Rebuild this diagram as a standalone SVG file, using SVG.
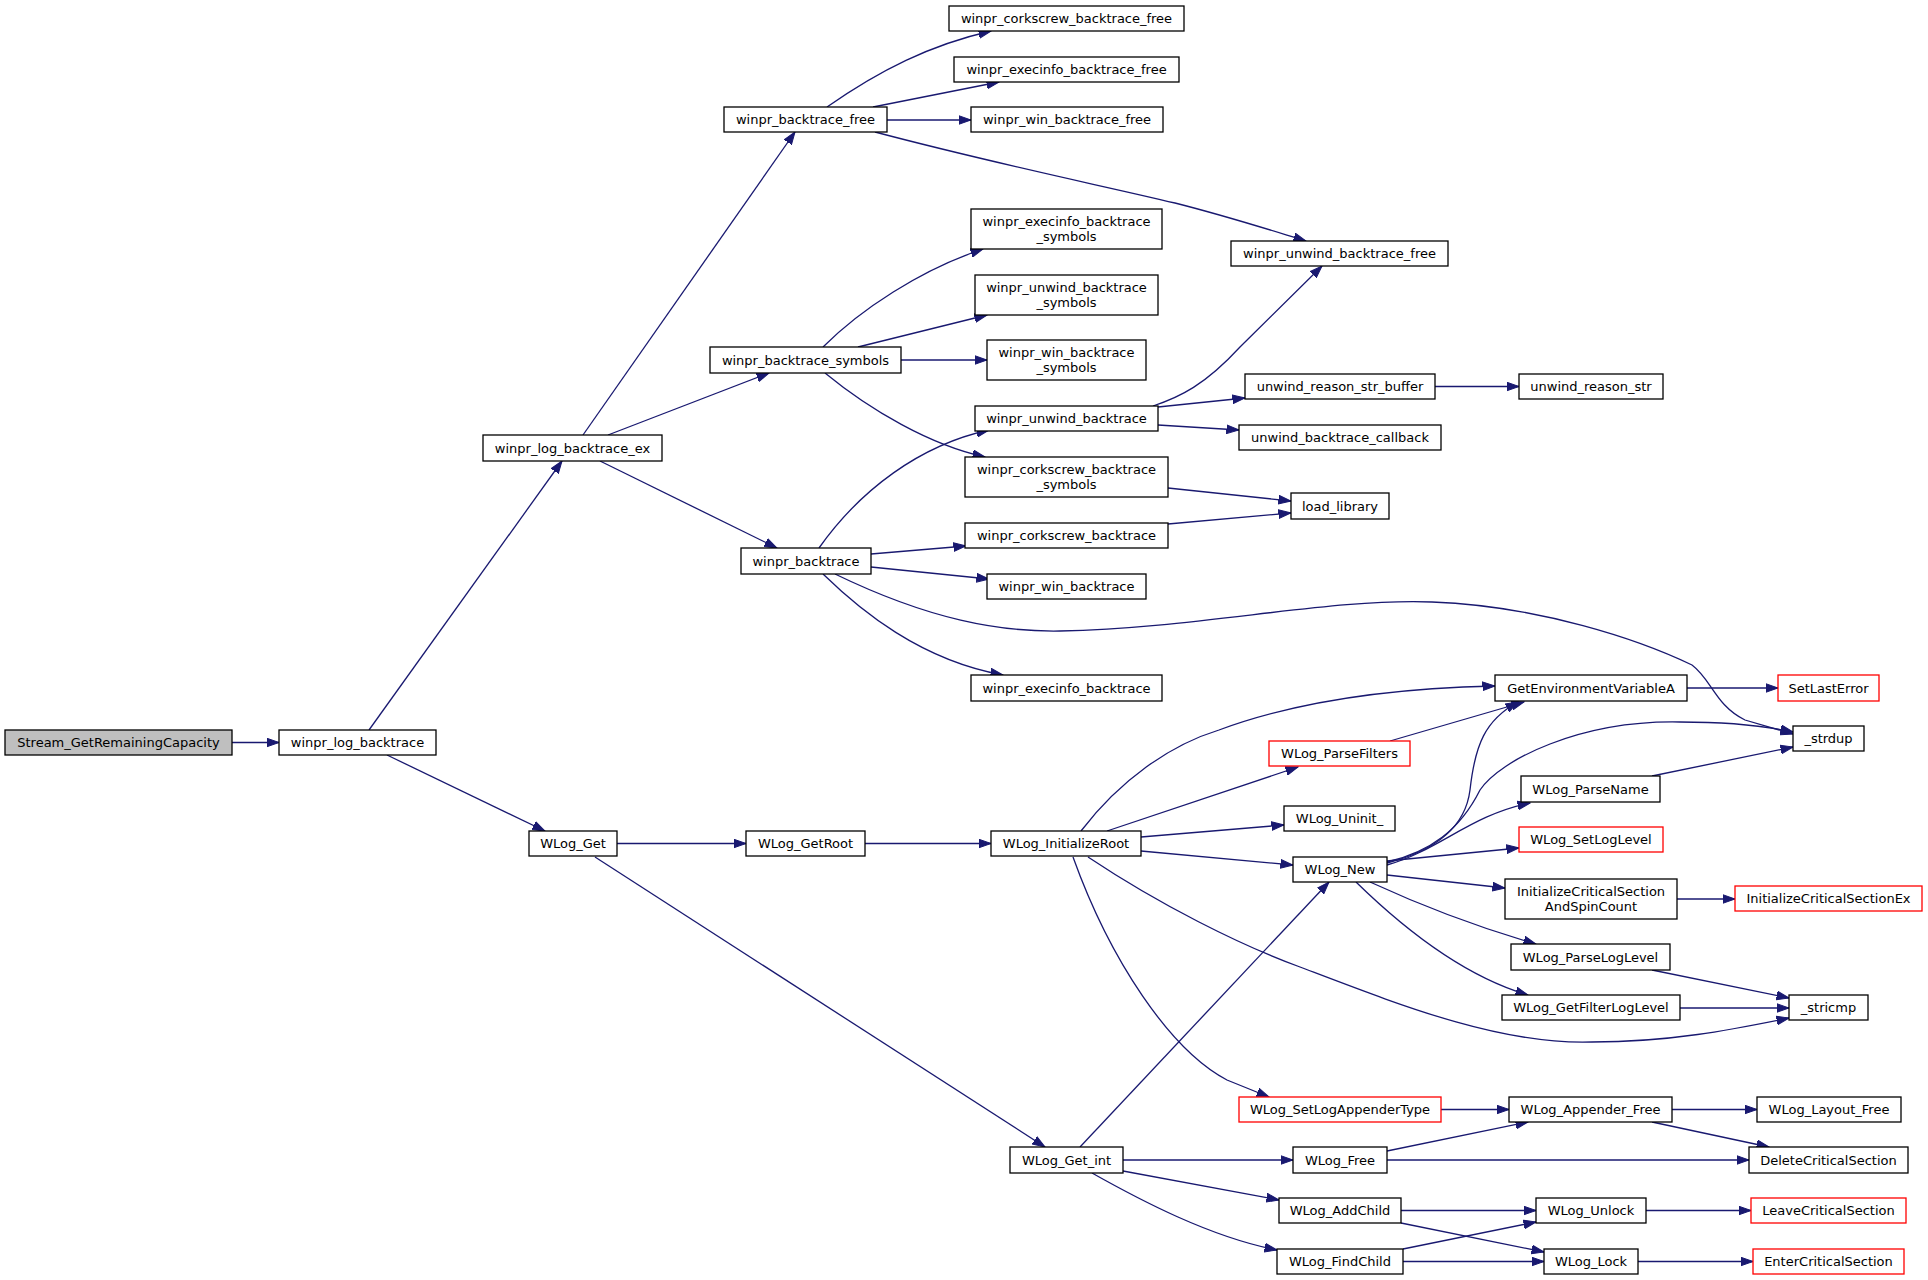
<svg xmlns="http://www.w3.org/2000/svg" width="1928" height="1280" viewBox="0 0 1928 1280">
<style>
.n rect{fill:#fff;stroke:#000;stroke-width:1.3}
.r rect{stroke:#ff0000}
.g rect{fill:#bfbfbf}
text{font-family:"DejaVu Sans","Liberation Sans",sans-serif;font-size:13px;text-anchor:middle;fill:#000}
#edges path{fill:none;stroke:#191970;stroke-width:1.3;marker-end:url(#a)}
</style>
<defs>
<marker id="a" markerUnits="userSpaceOnUse" markerWidth="14" markerHeight="10" refX="12.5" refY="5" orient="auto">
<path d="M0,0.6 L12.5,5 L0,9.4 z" fill="#191970" stroke="#191970" stroke-width="1"/>
</marker>
</defs>
<rect width="1928" height="1280" fill="#fff"/>
<g id="edges">
<path d="M232,742.5 L279,742.5"/>
<path d="M369,730 L562,461"/>
<path d="M387,755 L545,831"/>
<path d="M583,435 L795,132"/>
<path d="M608,435 L769,373"/>
<path d="M600,461 L777,548"/>
<path d="M827,107 C880,70 930,45 991,31"/>
<path d="M873,107 L999,82"/>
<path d="M887,120 L971,120"/>
<path d="M875,132 C1000,165 1100,185 1175,203 C1230,217 1270,230 1306,241"/>
<path d="M823,347 C860,310 920,270 983,249"/>
<path d="M858,347 L987,315"/>
<path d="M901,360 L987,360"/>
<path d="M825,373 C870,410 930,445 985,457"/>
<path d="M819,548 C860,490 920,445 989,430"/>
<path d="M871,554 L966,546"/>
<path d="M871,567 L989,579"/>
<path d="M823,574 C860,610 920,660 1003,675"/>
<path d="M835,574 C930,620 1000,632 1060,631 C1200,628 1330,598 1432,602 C1540,606 1640,640 1692,665 C1712,680 1715,705 1745,720 L1793,734"/>
<path d="M1153,406 C1180,397 1205,385 1240,347 L1322,266"/>
<path d="M1158,407 L1245,398"/>
<path d="M1158,425 L1239,430"/>
<path d="M1435,386.5 L1519,386.5"/>
<path d="M1168,488 L1291,501"/>
<path d="M1168,524 L1291,513"/>
<path d="M617,843.5 L746,843.5"/>
<path d="M595,857 L1045,1147"/>
<path d="M865,843.5 L991,843.5"/>
<path d="M1081,831 C1120,780 1170,745 1219,730 C1300,700 1400,688 1495,686"/>
<path d="M1107,831 L1298,767"/>
<path d="M1141,837 L1284,825"/>
<path d="M1141,851 L1293,865"/>
<path d="M1073,857 C1110,960 1170,1050 1227,1080 L1269,1097"/>
<path d="M1088,857 C1160,905 1240,945 1300,967 C1400,1005 1500,1045 1592,1042 C1670,1042 1730,1030 1789,1018"/>
<path d="M1390,741 L1524,702"/>
<path d="M1687,688 L1778,688"/>
<path d="M1387,863 C1430,852 1465,830 1470,790 C1475,745 1485,720 1518,702"/>
<path d="M1387,862 C1430,852 1460,830 1480,790 C1500,760 1580,720 1680,722 C1730,722 1770,727 1793,732"/>
<path d="M1387,865 C1440,850 1470,815 1530,803"/>
<path d="M1387,861 L1519,848"/>
<path d="M1387,875 L1505,888"/>
<path d="M1370,882 C1420,905 1470,925 1536,944"/>
<path d="M1356,882 C1400,925 1460,975 1528,995"/>
<path d="M1652,776 L1793,747"/>
<path d="M1677,899 L1735,899"/>
<path d="M1652,970 L1789,998"/>
<path d="M1680,1008 L1789,1008"/>
<path d="M1080,1147 L1329,882"/>
<path d="M1123,1160 L1293,1160"/>
<path d="M1123,1171 L1279,1200"/>
<path d="M1092,1173 C1140,1200 1210,1237 1277,1250"/>
<path d="M1441,1109.5 L1509,1109.5"/>
<path d="M1387,1151 L1528,1122"/>
<path d="M1387,1160 L1749,1160"/>
<path d="M1672,1109.5 L1757,1109.5"/>
<path d="M1652,1122 L1769,1147"/>
<path d="M1401,1210.5 L1536,1210.5"/>
<path d="M1401,1223 L1544,1252"/>
<path d="M1403,1249 L1536,1222"/>
<path d="M1403,1261.5 L1544,1261.5"/>
<path d="M1646,1210.5 L1751,1210.5"/>
<path d="M1638,1261.5 L1753,1261.5"/>
</g>
<g id="n1" class="n g"><rect x="5" y="730" width="227" height="25"/><text x="118.5" y="747">Stream_GetRemainingCapacity</text></g>
<g id="n2" class="n"><rect x="279" y="730" width="157" height="25"/><text x="357.5" y="747">winpr_log_backtrace</text></g>
<g id="n3" class="n"><rect x="483" y="435" width="179" height="26"/><text x="572.5" y="452.5">winpr_log_backtrace_ex</text></g>
<g id="n4" class="n"><rect x="529" y="831" width="88" height="25"/><text x="573" y="848">WLog_Get</text></g>
<g id="n5" class="n"><rect x="724" y="107" width="163" height="25"/><text x="805.5" y="124">winpr_backtrace_free</text></g>
<g id="n6" class="n"><rect x="710" y="347" width="191" height="26"/><text x="805.5" y="364.5">winpr_backtrace_symbols</text></g>
<g id="n7" class="n"><rect x="741" y="548" width="130" height="26"/><text x="806" y="565.5">winpr_backtrace</text></g>
<g id="n8" class="n"><rect x="746" y="831" width="119" height="25"/><text x="805.5" y="848">WLog_GetRoot</text></g>
<g id="n9" class="n"><rect x="1010" y="1147" width="113" height="26"/><text x="1066.5" y="1164.5">WLog_Get_int</text></g>
<g id="n10" class="n"><rect x="949" y="6" width="235" height="25"/><text x="1066.5" y="23">winpr_corkscrew_backtrace_free</text></g>
<g id="n11" class="n"><rect x="954" y="57" width="225" height="25"/><text x="1066.5" y="74">winpr_execinfo_backtrace_free</text></g>
<g id="n12" class="n"><rect x="971" y="107" width="192" height="25"/><text x="1067" y="124">winpr_win_backtrace_free</text></g>
<g id="n13" class="n"><rect x="971" y="209" width="191" height="40"/><text x="1066.5" y="225.5">winpr_execinfo_backtrace</text><text x="1066.5" y="240.5">_symbols</text></g>
<g id="n14" class="n"><rect x="975" y="275" width="183" height="40"/><text x="1066.5" y="291.5">winpr_unwind_backtrace</text><text x="1066.5" y="306.5">_symbols</text></g>
<g id="n15" class="n"><rect x="987" y="340" width="159" height="40"/><text x="1066.5" y="356.5">winpr_win_backtrace</text><text x="1066.5" y="371.5">_symbols</text></g>
<g id="n16" class="n"><rect x="975" y="406" width="183" height="25"/><text x="1066.5" y="423">winpr_unwind_backtrace</text></g>
<g id="n17" class="n"><rect x="965" y="457" width="203" height="40"/><text x="1066.5" y="473.5">winpr_corkscrew_backtrace</text><text x="1066.5" y="488.5">_symbols</text></g>
<g id="n18" class="n"><rect x="965" y="523" width="203" height="25"/><text x="1066.5" y="540">winpr_corkscrew_backtrace</text></g>
<g id="n19" class="n"><rect x="987" y="574" width="159" height="25"/><text x="1066.5" y="591">winpr_win_backtrace</text></g>
<g id="n20" class="n"><rect x="971" y="675" width="191" height="26"/><text x="1066.5" y="692.5">winpr_execinfo_backtrace</text></g>
<g id="n21" class="n"><rect x="991" y="831" width="150" height="25"/><text x="1066" y="848">WLog_InitializeRoot</text></g>
<g id="n22" class="n"><rect x="1231" y="241" width="217" height="25"/><text x="1339.5" y="258">winpr_unwind_backtrace_free</text></g>
<g id="n23" class="n"><rect x="1245" y="374" width="190" height="25"/><text x="1340" y="391">unwind_reason_str_buffer</text></g>
<g id="n24" class="n"><rect x="1239" y="425" width="202" height="25"/><text x="1340" y="442">unwind_backtrace_callback</text></g>
<g id="n25" class="n"><rect x="1291" y="493" width="98" height="26"/><text x="1340" y="510.5">load_library</text></g>
<g id="n26" class="n r"><rect x="1269" y="741" width="141" height="25"/><text x="1339.5" y="758">WLog_ParseFilters</text></g>
<g id="n27" class="n"><rect x="1284" y="806" width="111" height="25"/><text x="1339.5" y="823">WLog_Uninit_</text></g>
<g id="n28" class="n"><rect x="1293" y="857" width="94" height="25"/><text x="1340" y="874">WLog_New</text></g>
<g id="n29" class="n r"><rect x="1239" y="1097" width="202" height="25"/><text x="1340" y="1114">WLog_SetLogAppenderType</text></g>
<g id="n30" class="n"><rect x="1293" y="1147" width="94" height="26"/><text x="1340" y="1164.5">WLog_Free</text></g>
<g id="n31" class="n"><rect x="1279" y="1198" width="122" height="25"/><text x="1340" y="1215">WLog_AddChild</text></g>
<g id="n32" class="n"><rect x="1277" y="1249" width="126" height="25"/><text x="1340" y="1266">WLog_FindChild</text></g>
<g id="n33" class="n"><rect x="1519" y="374" width="144" height="25"/><text x="1591" y="391">unwind_reason_str</text></g>
<g id="n34" class="n"><rect x="1495" y="675" width="192" height="26"/><text x="1591" y="692.5">GetEnvironmentVariableA</text></g>
<g id="n35" class="n"><rect x="1521" y="776" width="139" height="26"/><text x="1590.5" y="793.5">WLog_ParseName</text></g>
<g id="n36" class="n r"><rect x="1519" y="827" width="144" height="25"/><text x="1591" y="844">WLog_SetLogLevel</text></g>
<g id="n37" class="n"><rect x="1505" y="879" width="172" height="40"/><text x="1591" y="895.5">InitializeCriticalSection</text><text x="1591" y="910.5">AndSpinCount</text></g>
<g id="n38" class="n"><rect x="1511" y="944" width="159" height="26"/><text x="1590.5" y="961.5">WLog_ParseLogLevel</text></g>
<g id="n39" class="n"><rect x="1502" y="995" width="178" height="25"/><text x="1591" y="1012">WLog_GetFilterLogLevel</text></g>
<g id="n40" class="n"><rect x="1509" y="1097" width="163" height="25"/><text x="1590.5" y="1114">WLog_Appender_Free</text></g>
<g id="n41" class="n"><rect x="1536" y="1198" width="110" height="25"/><text x="1591" y="1215">WLog_Unlock</text></g>
<g id="n42" class="n"><rect x="1544" y="1249" width="94" height="25"/><text x="1591" y="1266">WLog_Lock</text></g>
<g id="n43" class="n r"><rect x="1778" y="675" width="101" height="26"/><text x="1828.5" y="692.5">SetLastError</text></g>
<g id="n44" class="n"><rect x="1793" y="726" width="71" height="25"/><text x="1828.5" y="743">_strdup</text></g>
<g id="n45" class="n r"><rect x="1735" y="886" width="187" height="25"/><text x="1828.5" y="903">InitializeCriticalSectionEx</text></g>
<g id="n46" class="n"><rect x="1789" y="995" width="79" height="25"/><text x="1828.5" y="1012">_stricmp</text></g>
<g id="n47" class="n"><rect x="1757" y="1097" width="144" height="25"/><text x="1829" y="1114">WLog_Layout_Free</text></g>
<g id="n48" class="n"><rect x="1749" y="1147" width="159" height="26"/><text x="1828.5" y="1164.5">DeleteCriticalSection</text></g>
<g id="n49" class="n r"><rect x="1751" y="1198" width="155" height="25"/><text x="1828.5" y="1215">LeaveCriticalSection</text></g>
<g id="n50" class="n r"><rect x="1753" y="1249" width="151" height="25"/><text x="1828.5" y="1266">EnterCriticalSection</text></g>
</svg>
